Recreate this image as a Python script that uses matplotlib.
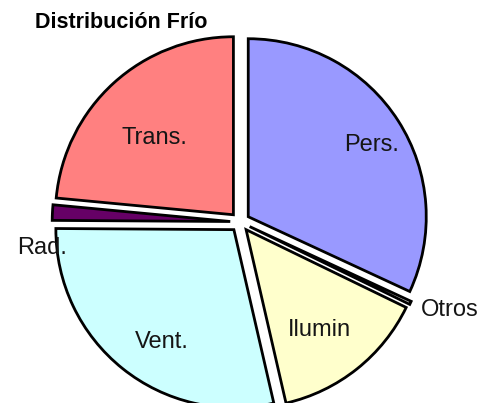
import numpy as np
import matplotlib
matplotlib.use("Agg")
import matplotlib.pyplot as plt

plt.rcParams['font.family'] = ['Liberation Sans', 'DejaVu Sans']

# datos (porcentajes aproximados)
etiquetas = ['Pers.', 'Otros', 'Ilumin', 'Vent.', 'Rad.', 'Trans.']
valores = [31.9, 0.3, 14.2, 28.7, 1.4, 23.5]
colores = ['#9999FF', '#FFFFFF', '#FFFFCC', '#CCFFFF', '#660066', '#FF8080']
separacion = [0.055, 0.06, 0.055, 0.055, 0.055, 0.055]

fig = plt.figure(figsize=(4.83, 4.03), dpi=100)
ax = fig.add_axes([0, 0, 1, 1])

wedges, _ = ax.pie(valores, colors=colores, explode=separacion, startangle=90,
                   counterclock=False, radius=1.0,
                   wedgeprops=dict(edgecolor='black', linewidth=2))

# posicion de cada etiqueta: (distancia al centro del sector, giro en grados)
pos = {'Pers.': (0.80, -2.3), 'Otros': (1.22, 2.8), 'Ilumin': (0.70, -2.5),
       'Vent.': (0.75, 5.8), 'Rad.': (1.07, 10.9), 'Trans.': (0.62, 3.3)}
for w, lab in zip(wedges, etiquetas):
    r, giro = pos[lab]
    ang = np.deg2rad((w.theta1 + w.theta2) / 2 + giro)
    cx, cy = w.center
    ax.text(cx + r * np.cos(ang), cy + r * np.sin(ang), lab,
            ha='center', va='center', fontsize=17, color='#151515')

# centro del pastel en (240, 222) px, radio 178 px
s = 178.0
ax.set_xlim(-240 / s, (483 - 240) / s)
ax.set_ylim(-(403 - 222) / s, 222 / s)
ax.set_aspect('auto')
ax.axis('off')

fig.text(0.072, 0.943, 'Distribución Frío', fontsize=15.5, fontweight='bold',
         ha='left', va='center')

fig.savefig('out.png', dpi=100)
